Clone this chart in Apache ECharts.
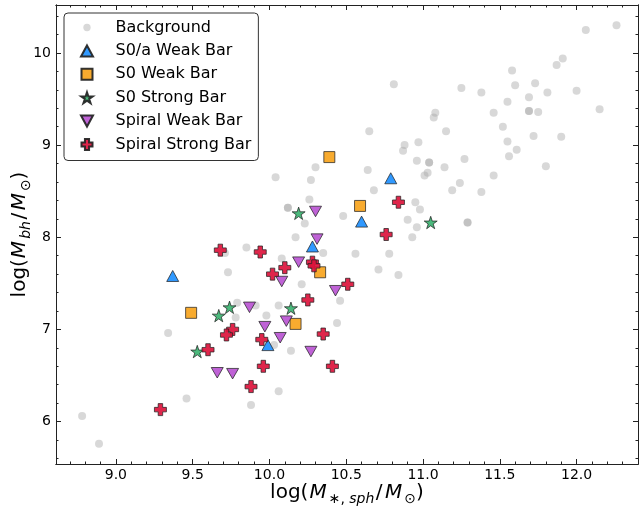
<!DOCTYPE html>
<html>
<head>
<meta charset="utf-8">
<title>Mbh - Msph</title>
<script src="https://cdn.jsdelivr.net/npm/echarts@6/dist/echarts.min.js"></script>
<style>
  html, body { margin: 0; padding: 0; background: #fff; }
</style>
</head>
<body>
<div id="main" style="width: 641px;height:511px;"></div>
<script type="text/javascript">
// background sample (duplicated entries = overlapping points)
var bgX = [12.06, 12.26, 11.91, 11.87, 11.58, 11.25, 11.38, 11.60, 11.73, 11.81,
           12.00, 11.55, 11.69, 11.46, 11.69, 11.69, 11.75, 12.15, 11.15, 11.52,
           11.55, 11.72, 11.90, 11.61, 11.56, 11.27, 11.14, 11.46, 11.80, 11.24,
           11.19, 11.38, 10.81, 10.65, 11.08, 11.07, 10.88, 10.87, 10.97, 10.96,
           11.04, 11.04, 11.03, 11.01, 10.64, 10.68, 10.48, 10.95, 10.98, 10.90,
           10.96, 10.93, 11.29, 11.29, 10.56, 10.78, 10.35, 10.30, 10.27, 10.26,
           10.23, 10.17, 10.71, 10.84, 10.21, 10.46, 10.44, 10.14, 10.04, 10.12,
           10.12, 9.85, 9.71, 10.08, 9.73, 9.79, 9.78, 9.91, 10.06, 9.98,
           10.03, 10.06, 9.88, 9.46, 9.34, 8.78, 8.89];
var bgY = [10.25, 10.30, 9.94, 9.87, 9.81, 9.62, 9.57, 9.65, 9.67, 9.57,
           9.59, 9.47, 9.52, 9.35, 9.37, 9.37, 9.36, 9.39, 9.15, 9.20,
           9.04, 9.10, 9.09, 8.95, 8.88, 8.85, 8.76, 8.67, 8.77, 8.59,
           8.51, 8.49, 9.66, 9.15, 9.35, 9.30, 9.00, 8.94, 9.03, 8.83,
           8.81, 8.81, 8.70, 8.67, 8.73, 8.51, 8.23, 8.38, 8.30, 8.19,
           8.11, 8.00, 8.16, 8.16, 7.82, 7.82, 7.83, 8.76, 8.62, 8.41,
           8.15, 8.00, 7.65, 7.59, 7.49, 7.31, 7.07, 6.77, 8.65, 8.32,
           8.32, 7.89, 7.83, 7.77, 7.62, 7.29, 7.13, 7.26, 7.26, 7.15,
           6.83, 6.33, 6.18, 6.25, 6.96, 6.06, 5.76];

var s0aWeakX = [9.37, 9.99, 10.28, 10.60, 10.79];
var s0aWeakY = [7.58, 6.83, 7.90, 8.17, 8.64];

var s0WeakX = [9.49, 10.17, 10.33, 10.59, 10.39];
var s0WeakY = [7.18, 7.06, 7.62, 8.34, 8.87];

var s0StrongX = [10.19, 11.05, 9.67, 9.74, 9.53, 10.14];
var s0StrongY = [8.26, 8.16, 7.15, 7.24, 6.76, 7.23];

var spWeakX = [10.30, 10.31, 10.08, 10.19, 9.87, 9.97, 10.11, 10.07, 9.66, 9.76, 10.43, 10.27];
var spWeakY = [8.28, 7.98, 7.52, 7.73, 7.24, 7.03, 7.09, 6.91, 6.53, 6.52, 7.42, 6.76];

var spStrongX = [9.68, 9.94, 10.10, 10.02, 10.84, 10.76, 10.28, 10.29, 10.51, 10.25,
                 10.35, 10.41, 9.76, 9.72, 9.60, 9.95, 9.96, 9.88, 9.29];
var spStrongY = [7.86, 7.84, 7.67, 7.60, 8.38, 8.03, 7.73, 7.69, 7.49, 7.32,
                 6.95, 6.60, 7.00, 6.94, 6.78, 6.89, 6.60, 6.38, 6.13];

// tick values
var xMajor = [9.0, 9.5, 10.0, 10.5, 11.0, 11.5, 12.0];
var xMinor = [8.7, 8.8, 8.9, 9.1, 9.2, 9.3, 9.4, 9.6, 9.7, 9.8, 9.9,
              10.1, 10.2, 10.3, 10.4, 10.6, 10.7, 10.8, 10.9,
              11.1, 11.2, 11.3, 11.4, 11.6, 11.7, 11.8, 11.9,
              12.1, 12.2, 12.3];
var yMajor = [6, 7, 8, 9, 10];
var yMinor = [5.6, 5.8, 6.2, 6.4, 6.6, 6.8, 7.2, 7.4, 7.6, 7.8,
              8.2, 8.4, 8.6, 8.8, 9.2, 9.4, 9.6, 9.8, 10.2, 10.4];

var xMin = 8.61, xMax = 12.40, yMin = 5.54, yMax = 10.52;

function pairs(xs, ys) {
    return xs.map(function (x, i) { return [x, ys[i]]; });
}

var triUp = 'path://M6,0L12,11L0,11Z';
var triDown = 'path://M0,0L12,0L6,11Z';
var square = 'path://M0,0L10,0L10,10L0,10Z';
var star = 'path://M0,-100L22.45,-30.9L95.11,-30.9L36.33,11.8L58.78,80.9L0,38.2L-58.78,80.9L-36.33,11.8L-95.11,-30.9L-22.45,-30.9Z';
var plus = 'path://M3.75,0L8.25,0L8.25,3.75L12,3.75L12,8.25L8.25,8.25L8.25,12L3.75,12L3.75,8.25L0,8.25L0,3.75L3.75,3.75Z';
// small dot inside a 12x12 box for the legend
var bgIcon = 'path://M0,0M12,12M2,6a4,4 0 1,0 8,0a4,4 0 1,0 -8,0Z';

var font = 'DejaVu Sans';
var axisCol = '#222';

function makeAxis(position, lo, hi, ticks, len, label) {
    return {
        type: 'value',
        position: position,
        min: lo,
        max: hi,
        axisLine: { show: true, onZero: false, lineStyle: { color: axisCol, width: 1 } },
        axisTick: { show: true, inside: true, length: len, customValues: ticks,
                    lineStyle: { color: axisCol, width: 1 } },
        axisLabel: label ? label : { show: false },
        splitLine: { show: false }
    };
}

var richName = {
    n: { fontFamily: font, fontSize: 20, color: '#000', lineHeight: 26 },
    sl: { fontFamily: font, fontSize: 20, color: '#000', lineHeight: 26, padding: [0, 1.5, 0, 1.5] },
    i: { fontFamily: font, fontSize: 20, fontStyle: 'italic', color: '#000', lineHeight: 26, padding: [0, 2, 0, 1] },
    s: { fontFamily: font, fontSize: 14, color: '#000', lineHeight: 26, verticalAlign: 'bottom' },
    si: { fontFamily: font, fontSize: 14, fontStyle: 'italic', color: '#000', lineHeight: 26, verticalAlign: 'bottom' }
};

var xMain = makeAxis('bottom', xMin, xMax, xMajor, 5, {
    show: true, customValues: xMajor, margin: 4,
    fontFamily: font, fontSize: 14, color: '#000',
    formatter: function (v) { return v.toFixed(1); }
});
xMain.name = '{n|log(}{i|M}{s|∗, }{si|sph}{sl|/}{i|M}{s|⊙}{n|)}';
xMain.nameLocation = 'middle';
xMain.nameGap = 16;
xMain.nameMoveOverlap = false;
xMain.nameTextStyle = { rich: richName };

var yMain = makeAxis('left', yMin, yMax, yMajor, 5, {
    show: true, customValues: yMajor, margin: 5,
    fontFamily: font, fontSize: 14, color: '#000'
});
yMain.name = '{n|log(}{i|M}{si|bh}{sl|/}{i|M}{s|⊙}{n|)}';
yMain.nameLocation = 'middle';
yMain.nameGap = 23;
yMain.nameMoveOverlap = false;
yMain.nameTextStyle = { rich: richName };

var chart = echarts.init(document.getElementById('main'));

var mark = function (name, sym, size, color, xs, ys) {
    return {
        name: name,
        type: 'scatter',
        symbol: sym,
        symbolSize: size,
        data: pairs(xs, ys),
        itemStyle: { color: color, borderColor: '#222', borderWidth: 0.8, opacity: 0.92 },
        emphasis: { disabled: true }
    };
};

var option = {
    animation: false,
    grid: { left: 56, right: 3, top: 5, bottom: 47, outerBoundsMode: 'none', containLabel: false },
    xAxis: [
        xMain,
        makeAxis('bottom', xMin, xMax, xMinor, 2.5),
        makeAxis('top', xMin, xMax, xMajor, 5),
        makeAxis('top', xMin, xMax, xMinor, 2.5)
    ],
    yAxis: [
        yMain,
        makeAxis('left', yMin, yMax, yMinor, 2.5),
        makeAxis('right', yMin, yMax, yMajor, 5),
        makeAxis('right', yMin, yMax, yMinor, 2.5)
    ],
    legend: {
        orient: 'vertical',
        left: 64,
        top: 13,
        padding: [5.5, 7, 7, 16],
        itemWidth: 29,
        itemHeight: 11,
        itemGap: 5.4,
        borderColor: '#333',
        borderWidth: 1,
        borderRadius: 4,
        backgroundColor: '#fff',
        textStyle: { fontFamily: font, fontSize: 16, color: '#000', lineHeight: 18, padding: [0, 0, 0, 9] },
        data: [
            { name: 'Background', icon: bgIcon },
            'S0/a Weak Bar', 'S0 Weak Bar', 'S0 Strong Bar', 'Spiral Weak Bar', 'Spiral Strong Bar'
        ]
    },
    series: [
        {
            name: 'Background',
            type: 'scatter',
            symbol: 'circle',
            symbolSize: 8,
            data: pairs(bgX, bgY),
            itemStyle: { color: '#a8a8a8', opacity: 0.45 },
            emphasis: { disabled: true }
        },
        mark('S0/a Weak Bar', triUp, [12, 11], '#1e90ff', s0aWeakX, s0aWeakY),
        mark('S0 Weak Bar', square, [11, 11], '#f7a41d', s0WeakX, s0WeakY),
        mark('S0 Strong Bar', star, [13, 12.4], '#3cb371', s0StrongX, s0StrongY),
        mark('Spiral Weak Bar', triDown, [12, 10.5], '#ba55d3', spWeakX, spWeakY),
        mark('Spiral Strong Bar', plus, [12, 12], '#dc143c', spStrongX, spStrongY)
    ]
};

chart.setOption(option);
</script>
</body>
</html>
